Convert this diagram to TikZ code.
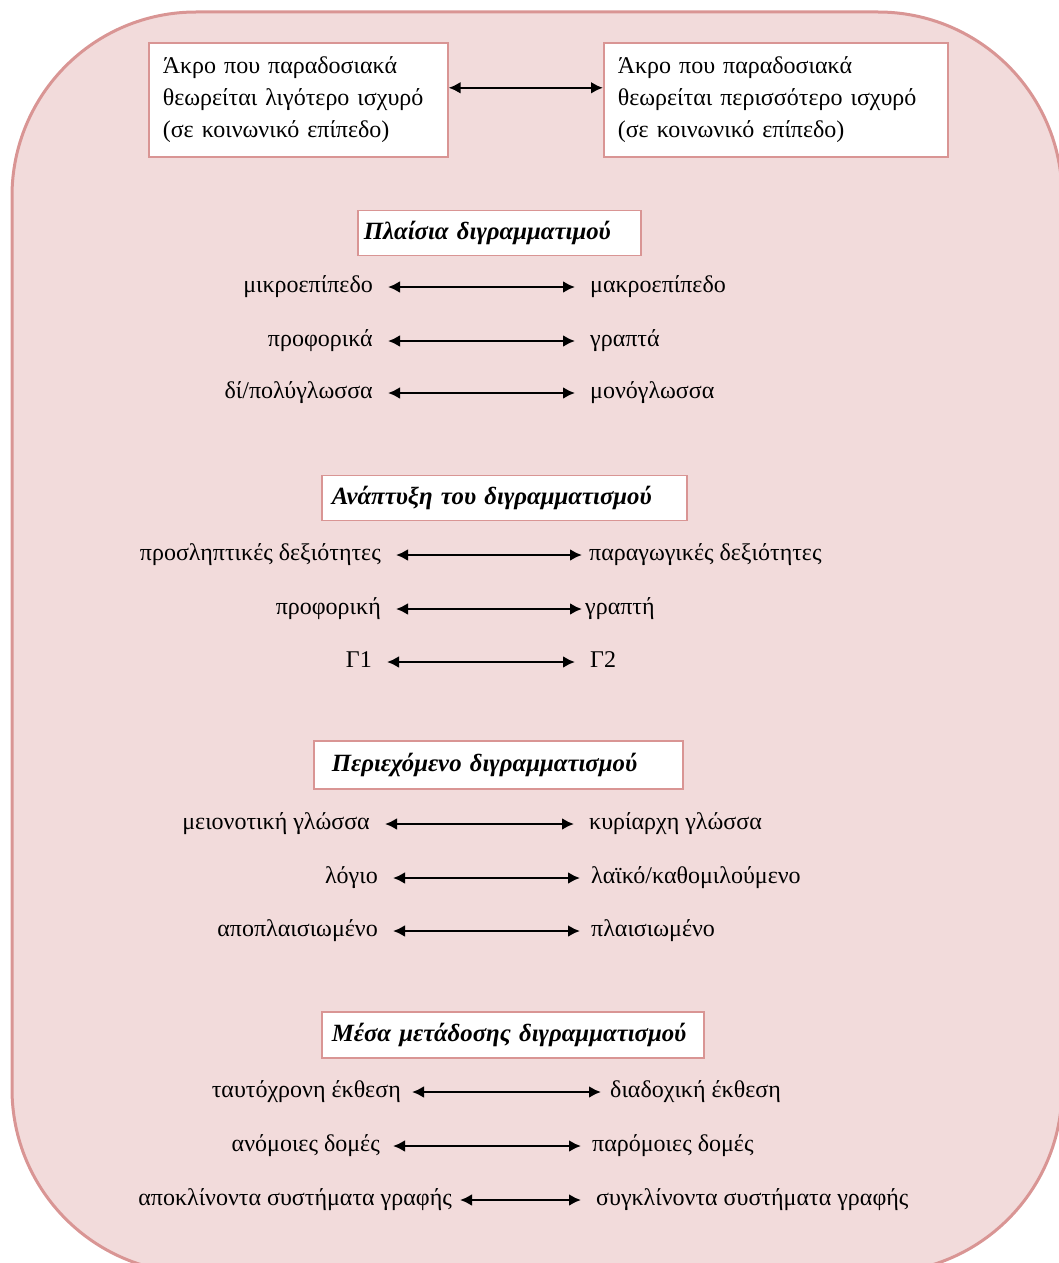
\documentclass[tikz,border=0pt]{standalone}
\usepackage{fontspec}
\setmainfont{Liberation Serif}
\usetikzlibrary{arrows.meta}
\definecolor{pinkfill}{RGB}{242,219,219}
\definecolor{pinkline}{RGB}{217,149,148}
\tikzset{
	lhs/.style={anchor=east,inner xsep=7pt,text height=8pt,text depth=2.6pt},
	rhs/.style={anchor=west,inner xsep=7pt,text height=8pt,text depth=2.6pt},
	hdr/.style={draw=pinkline,fill=white,line width=0.8pt,anchor=west,inner xsep=5pt,text width=#1,minimum height=22.5pt,font=\fontsize{12.4pt}{15pt}\selectfont\bfseries\itshape},
	endbox/.style={draw=pinkline,fill=white,line width=0.8pt,anchor=north west,inner xsep=7pt,align=left,text width=#1,minimum height=57pt}
}

\begin{document}
\begin{tikzpicture}[x=0.5pt,y=-0.5pt,font=\fontsize{12pt}{16pt}\selectfont,>={Latex[length=6pt,width=6pt]},line width=1.2pt]
						\useasboundingbox (0,0) rectangle (1059,1263);
						\clip (0,0) rectangle (1059,1263);
						\draw [pinkline,fill=pinkfill,line width=1.5pt,rounded corners=92pt] (12,12) rectangle (1062,1273);

						\node [endbox=135.5pt] (less) at (148,42) {Άκρο που παραδοσιακά\\θεωρείται λιγότερο ισχυρό\\(σε κοινωνικό επίπεδο)};
						\node [endbox=158pt] (more) at (603,42) {Άκρο που παραδοσιακά\\θεωρείται περισσότερο ισχυρό\\(σε κοινωνικό επίπεδο)};
						\draw [<->] ([yshift=6pt]less.east) -- ([yshift=6pt]more.west);

						\node [hdr=135.5pt,inner xsep=3pt] (h1) at (357,233) {Πλαίσια διγραμματιμού};
						\node [lhs] (l1) at (388,287) {μικροεπίπεδο};
						\node [rhs] (r1) at (575,287) {μακροεπίπεδο};
						\node [lhs] (l2) at (388,341) {προφορικά};
						\node [rhs] (r2) at (575,341) {γραπτά};
						\node [lhs] (l3) at (388,393) {δί/πολύγλωσσα};
						\node [rhs] (r3) at (575,393) {μονόγλωσσα};
						\draw [<->] (l1) -- (r1);
						\draw [<->] (l2) -- (r2);
						\draw [<->] (l3) -- (r3);

						\node [hdr=172.5pt] (h2) at (321,498) {Ανάπτυξη του διγραμματισμού};
						\node [lhs] (l4) at (396,555) {προσληπτικές δεξιότητες};
						\node [rhs,inner xsep=3pt] (r4) at (582,555) {παραγωγικές δεξιότητες};
						\node [lhs] (l5) at (396,609) {προφορική};
						\node [rhs,inner xsep=1pt] (r5) at (582,609) {γραπτή};
						\node [lhs] (l6) at (387,662) {Γ1};
						\node [rhs] (r6) at (575,662) {Γ2};
						\draw [<->] (l4) -- (r4);
						\draw [<->] (l5) -- (r5);
						\draw [<->] (l6) -- (r6);

						\node [hdr=166.5pt,minimum height=24pt,inner xsep=9pt] (h3) at (313,765) {Περιεχόμενο διγραμματισμού};
						\node [lhs] (l7) at (385,824) {μειονοτική γλώσσα};
						\node [rhs] (r7) at (574,824) {κυρίαρχη γλώσσα};
						\node [lhs] (l8) at (393,878) {λόγιο};
						\node [rhs,inner xsep=5pt] (r8) at (580,878) {λαϊκό/καθομιλούμενο};
						\node [lhs] (l9) at (393,931) {αποπλαισιωμένο};
						\node [rhs,inner xsep=5pt] (r9) at (580,931) {πλαισιωμένο};
						\draw [<->] (l7) -- (r7);
						\draw [<->] (l8) -- (r8);
						\draw [<->] (l9) -- (r9);

						\node [hdr=181pt,minimum height=23pt] (h4) at (321,1035) {Μέσα μετάδοσης διγραμματισμού};
						\node [lhs,inner xsep=5pt] (l10) at (412,1092) {ταυτόχρονη έκθεση};
						\node [rhs,inner xsep=4pt] (r10) at (601,1092) {διαδοχική έκθεση};
						\node [lhs,inner xsep=6pt] (l11) at (393,1146) {ανόμοιες δομές};
						\node [rhs,inner xsep=5pt] (r11) at (581,1146) {παρόμοιες δομές};
						\node [lhs,inner xsep=3.5pt] (l12) at (460,1200) {αποκλίνοντα συστήματα γραφής};
						\node [rhs] (r12) at (581,1200) {συγκλίνοντα συστήματα γραφής};
						\draw [<->] (l10) -- (r10);
						\draw [<->] (l11) -- (r11);
						\draw [<->] (l12) -- (r12);
					\end{tikzpicture}
\end{document}
